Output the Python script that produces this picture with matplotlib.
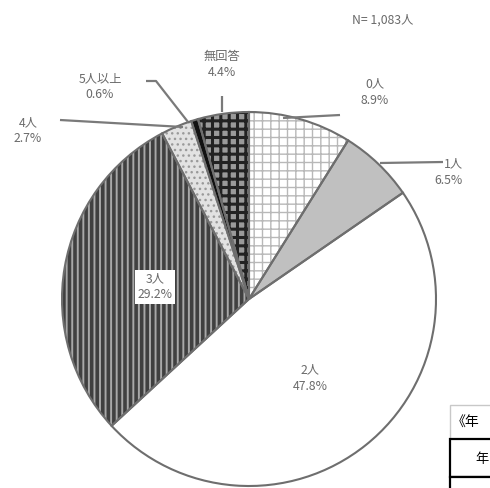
import matplotlib
matplotlib.use("Agg")
import matplotlib.pyplot as plt
from matplotlib.patches import Rectangle

plt.rcParams['font.family'] = ['Noto Sans CJK JP', 'DejaVu Sans']

categories = ["0人", "1人", "2人", "3人", "4人", "5人以上", "無回答"]
values = [8.9, 6.5, 47.8, 29.2, 2.7, 0.6, 4.4]
total_label = "N= 1,083人"

faces = ['white', '#c0c0c0', 'white', '#a8a8a8', '#e2e2e2', '#111111', '#9a9a9a']
hatches = ['++', None, None, '|||', '...', None, '++']
hatch_cols = ['#b8b8b8', '#c0c0c0', 'white', '#404040', '#9a9a9a', '#111111', '#222222']
hatch_lw = [1.0, 1.0, 1.0, 2.6, 1.0, 1.0, 2.2]

W, H = 490, 488
fig = plt.figure(figsize=(4.9, 4.88), dpi=100)
ax = fig.add_axes([0, 0, 1, 1])
ax.set_xlim(0, W)
ax.set_ylim(0, H)
ax.axis('off')

cx, cy, R = 249, H - 299, 187

def P(x, y):
    return x, H - y

wedges, _ = ax.pie(values, startangle=90, counterclock=False, center=(cx, cy),
                   radius=R, frame=True)
for w, fc, h, hc, lw in zip(wedges, faces, hatches, hatch_cols, hatch_lw):
    w.set_facecolor(fc)
    w.set_edgecolor(hc)
    w.set_linewidth(0)
    if h:
        w.set_hatch(h)
        if hasattr(w, 'set_hatch_linewidth'):
            w.set_hatch_linewidth(lw)
        else:
            w._hatch_linewidth = lw
outline, _ = ax.pie(values, startangle=90, counterclock=False, center=(cx, cy),
                    radius=R, frame=True)
for w in outline:
    w.set_facecolor('none')
    w.set_edgecolor('#6e6e6e')
    w.set_linewidth(1.5)
ax.set_xlim(0, W)
ax.set_ylim(0, H)
ax.axis('off')

tc = '#6a6a6a'
fs = 8.8
texts = {
    "無回答": (222, 64, 'center'),
    "0人": (375, 92, 'center'),
    "1人": (463, 172, 'right'),
    "5人以上": (100, 87, 'center'),
    "4人": (28, 131, 'center'),
    "3人": (155, 287, 'center'),
    "2人": (310, 378, 'center'),
}
for cat, v in zip(categories, values):
    x, y, ha = texts[cat]
    kw = {}
    if cat == "3人":
        kw['bbox'] = dict(facecolor='white', edgecolor='none', pad=2)
    ax.text(*P(x, y), f"{cat}\n{v}%", ha=ha, va='center', fontsize=fs,
            color=tc, linespacing=1.3, **kw)

ax.text(*P(383, 20), total_label, ha='center', va='center', fontsize=fs, color=tc)

lc = '#7a7a7a'
lines = [
    [(222, 96), (222, 112)],
    [(340, 115), (283, 118)],
    [(443, 162), (380, 163)],
    [(146, 81), (156, 81), (188, 122)],
    [(60, 120), (183, 127)],
]
for seg in lines:
    xs = [p[0] for p in seg]
    ys = [H - p[1] for p in seg]
    ax.plot(xs, ys, color=lc, lw=1.6, solid_capstyle='butt')

# partial table at bottom right
ax.add_patch(Rectangle(P(450, 439), 60, 34, facecolor='white', edgecolor='#c8c8c8', lw=1))
ax.add_patch(Rectangle(P(450, 477), 60, 38, facecolor='white', edgecolor='black', lw=1.6))
ax.add_patch(Rectangle(P(450, 500), 60, 23, facecolor='white', edgecolor='black', lw=1.6))
ax.text(*P(452, 422), "《年", ha='left', va='center', fontsize=10, color='black')
ax.text(*P(475, 459), "年", ha='left', va='center', fontsize=9.5, color='black')

fig.savefig('out.png', dpi=100)
